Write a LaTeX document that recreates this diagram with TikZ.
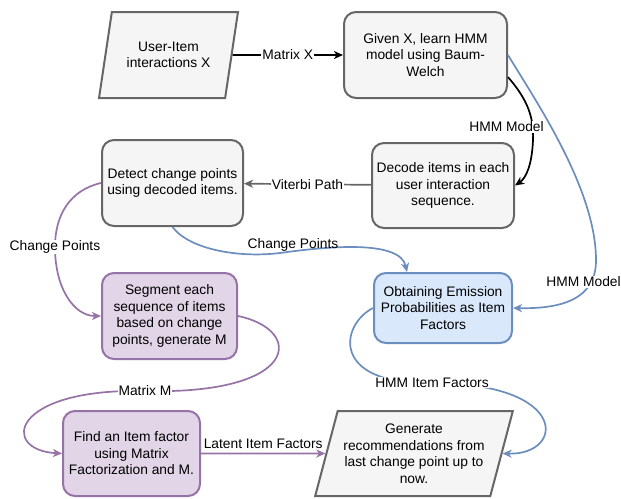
\documentclass[tikz,border=0pt]{standalone}
\usepackage{fontspec}
\setmainfont{Liberation Sans}
\usetikzlibrary{shapes,arrows.meta}

\definecolor{grayfill}{HTML}{F5F5F5}
\definecolor{grayline}{HTML}{666666}
\definecolor{purplefill}{HTML}{E1D5E7}
\definecolor{purpleline}{HTML}{9673A6}
\definecolor{bluefill}{HTML}{DAE8FC}
\definecolor{blueline}{HTML}{6C8EBF}

\begin{document}
\begin{tikzpicture}[x=1pt,y=1pt]
      \tikzstyle{every node}+=[font=\fontsize{13.8}{16.5}\selectfont, align=center, text=black]
      \tikzstyle{box}=[draw, line width=2pt, rounded corners=12pt, minimum height=86pt, inner sep=2pt]
      \tikzstyle{graybox}=[box, draw=grayline, fill=grayfill]
      \tikzstyle{purplebox}=[box, draw=purpleline, fill=purplefill]
      \tikzstyle{bluebox}=[box, draw=blueline, fill=bluefill]
      \tikzstyle{slanted}=[trapezium, trapezium left angle=71, trapezium right angle=109, trapezium stretches=true, draw=grayline, fill=grayfill, line width=2pt, minimum height=86pt, inner sep=1pt]
      \tikzstyle{edge}=[line width=1.7pt, -{Stealth[length=9pt,width=8pt,inset=2.5pt]}]
      \tikzstyle{lbl}=[fill=white, inner sep=1pt]
      \useasboundingbox (0,0) rectangle (621,-498);
      \node [slanted, minimum width=139pt] (input) at (168.5,-55) {User-Item\\interactions X};
      \node [graybox, minimum width=163pt] (learn) at (425.5,-55) {Given X, learn HMM\\model using Baum-\\Welch};
      \node [graybox, minimum width=142pt, minimum height=85pt] (decode) at (443,-185.5) {Decode items in each\\user interaction\\sequence.};
      \node [graybox, minimum width=141pt] (detect) at (172.5,-183) {Detect change points\\using decoded items.};
      \node [purplebox, minimum width=135pt] (segment) at (169.5,-316) {Segment each\\sequence of items\\based on change\\points, generate M};
      \node [bluebox, minimum width=138pt, minimum height=70pt] (emission) at (443,-308) {Obtaining Emission\\Probabilities as Item\\Factors};
      \node [purplebox, minimum width=137pt, minimum height=85pt] (factorize) at (131.5,-453.5) {Find an Item factor\\using Matrix\\Factorization and M.};
      \node [slanted, minimum width=198pt, minimum height=85pt] (generate) at (414,-453.5) {Generate\\recommendations from\\last change point up to\\now.};
      \draw [edge, black] (input) -- (learn) node [lbl, midway] (matx) {Matrix X};
      \draw [edge, black] (learn.-15) .. controls (528,-100) and (534,-118) .. (533,-140) .. controls (532,-165) and (526,-178) .. (decode.east);
      \draw [edge, grayline] (decode) -- (detect) node [lbl, midway] (viterbi) {Viterbi Path};
      \draw [edge, blueline] (learn.east) .. controls (535,-100) and (597,-190) .. (596,-262) .. controls (595,-300) and (560,-309) .. (emission.east);
      \draw [edge, blueline] (detect.south) .. controls (190,-250) and (240,-258) .. (280,-253) .. controls (330,-246) and (400,-240) .. (emission.135);
      \draw [edge, purpleline] (detect.west) .. controls (70,-190) and (55,-215) .. (55,-247) .. controls (55,-290) and (75,-316) .. (segment.west);
      \draw [edge, purpleline] (segment.east) .. controls (305,-330) and (300,-395) .. (145,-391) .. controls (10,-388) and (0,-450) .. (factorize.west);
      \draw [edge, blueline] (emission.west) .. controls (340,-325) and (330,-385) .. (432,-383) .. controls (570,-383) and (565,-455) .. (generate.east);
      \draw [edge, purpleline] (factorize.east) -- (generate.west) node [midway, above=3pt, inner sep=1pt] (latent) {Latent Item Factors};
      \node [lbl] (hmma) at (506.5,-127) {HMM Model};
      \node [lbl] (hmmb) at (583.5,-282) {HMM Model};
      \node [lbl] (chpa) at (55,-247) {Change Points};
      \node [inner sep=1pt] (chpb) at (293,-245) {Change Points};
      \node [lbl] (matm) at (145,-391) {Matrix M};
      \node [lbl] (hmmc) at (432,-382.5) {HMM Item Factors};
\end{tikzpicture}
\end{document}
